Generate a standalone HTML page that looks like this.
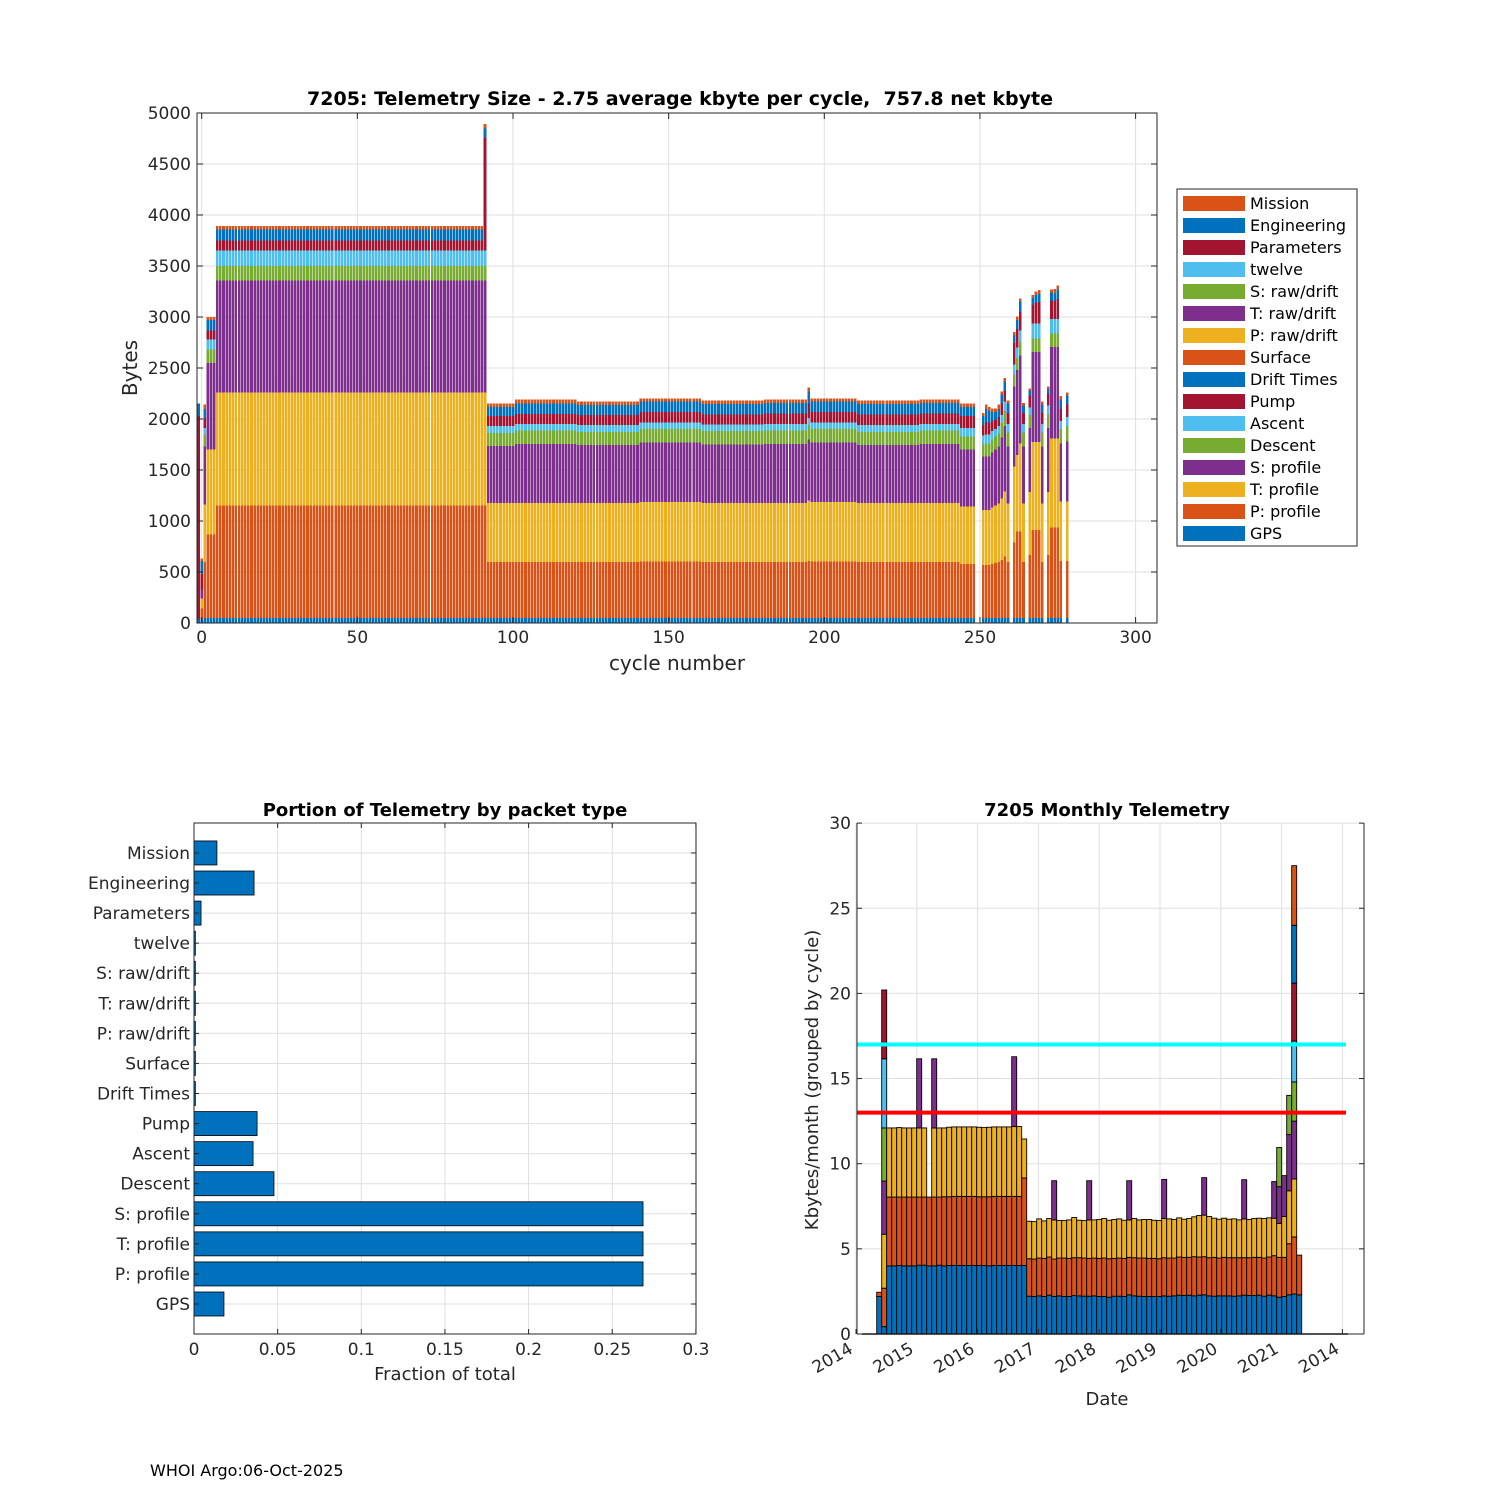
<!DOCTYPE html>
<html><head><meta charset="utf-8"><title>7205 Telemetry</title>
<style>
html,body{margin:0;padding:0;background:#fff;}
svg{display:block;font-family:"DejaVu Sans","Liberation Sans",sans-serif;}
.tk{font-size:17px;fill:#262626;}
.ttl{font-size:19px;font-weight:bold;fill:#000;white-space:pre;}
.lbl{font-size:20px;fill:#262626;}
.lg{font-size:16px;fill:#000;}
</style></head>
<body>
<svg id="fig" width="1500" height="1500" viewBox="0 0 1500 1500" xmlns="http://www.w3.org/2000/svg">
<rect x="0" y="0" width="1500" height="1500" fill="#fff"/>
<g id="top"></g>
<g id="bl"></g>
<g id="br"></g>
<text x="150" y="1476" font-size="16" fill="#000">WHOI Argo:06-Oct-2025</text>
</svg>
<script>
// ---------- TOP CHART DATA ----------
const topLayerNames = ['GPS','P: profile','T: profile','S: profile','Descent','Ascent','Pump','Drift Times','Surface','P: raw/drift','T: raw/drift','S: raw/drift','twelve','Parameters','Engineering','Mission'];
const topColors = ['#0072BD','#D95319','#EDB120','#7E2F8E','#77AC30','#4DBEEE','#A2142F','#0072BD','#D95319','#EDB120','#7E2F8E','#77AC30','#4DBEEE','#A2142F','#0072BD','#D95319'];
const rowLayerIndex = [0,1,2,3,4,5,6,13,14,15];
// [firstCycle, lastCycle, gps, P, T, S, descent, ascent, pump, params, engineering, mission]
const cycleSegments = [
 [-1,-1, 40,0,0,0,0,0,1990,0,120,0],
 [0,0, 40,100,100,90,0,0,150,0,130,20],
 [1,1, 50,550,560,570,120,60,100,0,90,40],
 [2,4, 50,820,830,850,130,100,90,0,100,30],
 [5,90, 50,1100,1110,1100,140,150,100,0,110,30],
 [91,91, 50,1100,1110,1100,140,150,1110,0,90,40],
 [92,100, 50,550,575,560,130,65,100,0,90,30],
 [101,120, 50,550,575,580,130,65,100,0,100,40],
 [121,140, 50,550,575,570,130,65,100,0,95,35],
 [141,160, 50,555,580,585,130,65,105,0,100,30],
 [161,180, 50,550,575,575,130,65,100,0,100,35],
 [181,194, 50,550,575,580,130,65,105,0,100,35],
 [195,195, 50,560,590,600,140,70,140,0,120,40],
 [196,210, 50,555,580,585,130,65,105,0,100,30],
 [211,230, 50,550,575,570,130,65,105,0,100,35],
 [231,243, 50,550,575,580,130,65,105,0,100,35],
 [244,248, 50,530,560,560,130,80,120,0,90,30],
 [251,251, 50,520,540,520,120,90,100,0,90,30],
 [252,252, 50,520,540,520,130,90,120,0,130,40],
 [253,253, 50,520,540,520,130,90,110,0,120,40],
 [254,254, 50,530,550,540,130,80,100,0,90,35],
 [255,255, 50,540,560,550,130,70,90,0,80,35],
 [256,256, 50,550,570,560,130,70,90,0,80,40],
 [257,257, 50,570,600,600,140,80,110,0,90,30],
 [258,258, 50,600,640,640,150,90,110,0,90,30],
 [259,259, 50,550,570,560,140,80,110,0,90,30],
 [261,261, 50,740,745,785,115,100,210,0,80,30],
 [262,262, 50,845,750,835,120,100,180,0,90,34],
 [263,263, 50,845,865,865,125,120,180,0,100,33],
 [264,264, 50,550,570,560,140,80,110,0,70,25],
 [266,266, 50,617,617,627,130,70,120,0,50,20],
 [267,267, 50,860,866,882,131,147,180,0,70,30],
 [268,268, 50,860,866,882,131,147,200,0,80,33],
 [269,269, 50,860,866,882,131,147,210,0,85,34],
 [270,270, 50,550,570,560,140,80,110,0,80,30],
 [272,272, 50,617,617,627,140,80,120,0,46,20],
 [273,273, 50,885,872,899,130,142,180,0,80,33],
 [274,274, 50,885,872,899,130,142,180,0,70,47],
 [275,275, 50,885,872,899,130,142,200,0,90,39],
 [276,276, 50,560,580,570,140,80,120,0,90,35],
 [278,278, 50,560,580,590,150,90,120,0,90,28]
];
const topXTicks = [0,50,100,150,200,250,300];
const topYTicks = [0,500,1000,1500,2000,2500,3000,3500,4000,4500,5000];

// ---------- BOTTOM LEFT DATA ----------
const packetNames = ['GPS','P: profile','T: profile','S: profile','Descent','Ascent','Pump','Drift Times','Surface','P: raw/drift','T: raw/drift','S: raw/drift','twelve','Parameters','Engineering','Mission'];
const packetFractions = [0.0179,0.2684,0.2684,0.2684,0.0478,0.0353,0.0377,0.0008,0.0008,0.0008,0.0008,0.0008,0.0008,0.0042,0.0359,0.0137];
const fracTicks = [0,0.05,0.1,0.15,0.2,0.25,0.3];
const fracTickLabels = ['0','0.05','0.1','0.15','0.2','0.25','0.3'];

// ---------- BOTTOM RIGHT DATA ----------
const monthBlue = [2.2,0.43,4.0,4.0,4.02,4.0,4.0,4.0,4.04,4.04,4.0,4.0,4.04,4.0,4.02,4.02,4.02,4.02,4.02,4.02,4.02,4.02,4.0,4.02,4.02,4.02,4.02,4.02,4.02,4.02,
 2.22,2.2,2.24,2.2,2.28,2.2,2.24,2.2,2.2,2.26,2.24,2.22,2.22,2.24,2.2,2.2,2.16,2.22,2.22,2.2,2.3,2.24,2.22,2.2,2.2,2.2,2.2,2.24,2.22,2.24,
 2.28,2.26,2.28,2.24,2.28,2.3,2.24,2.22,2.24,2.24,2.24,2.22,2.24,2.28,2.26,2.26,2.28,2.22,2.28,2.24,2.16,2.2,2.3,2.35,2.3];
const monthOrange = [0.25,2.26,4.04,4.04,4.02,4.04,4.04,4.04,4.0,4.0,4.04,4.04,4.0,4.06,4.04,4.06,4.06,4.06,4.06,4.06,4.04,4.04,4.06,4.06,4.06,4.06,4.06,4.06,4.06,5.14,
 2.2,2.2,2.22,2.24,2.24,2.2,2.22,2.26,2.24,2.22,2.24,2.24,2.22,2.22,2.24,2.26,2.26,2.22,2.24,2.24,2.2,2.24,2.24,2.26,2.24,2.24,2.22,2.24,2.24,2.22,
 2.24,2.24,2.22,2.3,2.24,2.24,2.24,2.28,2.22,2.26,2.24,2.26,2.24,2.2,2.22,2.24,2.22,2.24,2.24,2.36,2.34,2.3,3.0,3.35,2.33];
const monthYellow = [0,3.17,4.06,4.06,4.08,4.06,4.06,4.06,4.06,4.06,0,4.06,4.06,4.04,4.08,4.08,4.08,4.08,4.08,4.08,4.08,4.06,4.08,4.08,4.08,4.08,4.08,4.1,4.1,2.29,
 2.2,2.2,2.3,2.2,2.26,2.3,2.2,2.2,2.26,2.36,2.2,2.2,2.26,2.24,2.28,2.32,2.26,2.28,2.3,2.24,2.2,2.3,2.24,2.26,2.28,2.24,2.24,2.3,2.3,2.26,
 2.3,2.24,2.28,2.34,2.44,2.44,2.42,2.3,2.28,2.3,2.26,2.28,2.22,2.28,2.24,2.28,2.3,2.32,2.3,2.2,2.0,2.4,3.11,3.4,0];
const monthPurple = [0,3.12,0,0,0,0,0,0,4.06,0,0,4.06,0,0,0,0,0,0,0,0,0,0,0,0,0,0,0,4.1,0,0,
 0,0,0,0,0,2.3,0,0,0,0,0,0,2.3,0,0,0,0,0,0,0,2.3,0,0,0,0,0,0,2.3,0,0,
 0,0,0,0,0,2.2,0,0,0,0,0,0,0,2.3,0,0,0,0,0,2.15,2.15,2.4,3.3,3.4,0];
const monthGreen = [0,3.12,0,0,0,0,0,0,0,0,0,0,0,0,0,0,0,0,0,0,0,0,0,0,0,0,0,0,0,0,
 0,0,0,0,0,0,0,0,0,0,0,0,0,0,0,0,0,0,0,0,0,0,0,0,0,0,0,0,0,0,
 0,0,0,0,0,0,0,0,0,0,0,0,0,0,0,0,0,0,0,0,2.3,0,2.3,2.3,0];
const monthLightBlue = new Array(85).fill(0);
monthLightBlue[1] = 4.06; monthLightBlue[83] = 2.4;
const monthRed = new Array(85).fill(0);
monthRed[1] = 4.04; monthRed[83] = 3.4;
const monthBlue2 = new Array(85).fill(0);
monthBlue2[83] = 3.4;
const monthOrange2 = new Array(85).fill(0);
monthOrange2[83] = 3.5;
const monthLimitHigh = 17;
const monthLimitLow = 13;
const monthYTicks = [0,5,10,15,20,25,30];
const dateTickLabels = ['2014','2015','2016','2017','2018','2019','2020','2021','2014'];

const NS = 'http://www.w3.org/2000/svg';
function mk(parent, tag, attrs, txt){
  const e = document.createElementNS(NS, tag);
  for (const k in attrs) e.setAttribute(k, attrs[k]);
  if (txt !== undefined) e.textContent = txt;
  parent.appendChild(e);
  return e;
}

// ================= TOP CHART =================
(function(){
  const g = document.getElementById('top');
  const L=197, R=1157, T=113, B=623;
  const X = c => 201.7 + c*3.113;
  const Y = v => B - v*0.102;
  topXTicks.forEach(t=>{
    const l = mk(g,'line',{x1:X(t),x2:X(t),y1:T,y2:B,stroke:'#dfdfdf','stroke-width':1});
    
    
  });
  topYTicks.forEach(t=>{
    const l = mk(g,'line',{x1:L,x2:R,y1:Y(t),y2:Y(t),stroke:'#dfdfdf','stroke-width':1});
    
    
  });
  const bars = mk(g,'g',{'shape-rendering':'crispEdges'});
  
  
  cycleSegments.forEach(seg=>{
    for (let c=seg[0]; c<=seg[1]; c++){
      let base = 0;
      for (let f=0; f<10; f++){
        const v = seg[2+f];
        if (v<=0) continue;
        const r = mk(bars,'rect',{x:X(c)-1.3,width:2.6,y:Y(base+v),height:Y(base)-Y(base+v),fill:topColors[rowLayerIndex[f]]});
        
        
        base += v;
      }
    }
  });
  const box = mk(g,'rect',{x:L,y:T,width:R-L,height:B-T,fill:'none',stroke:'#262626','stroke-width':1});
  
  
  topXTicks.forEach(t=>{
    mk(g,'line',{x1:X(t),x2:X(t),y1:B,y2:B-6,stroke:'#262626'});
    mk(g,'line',{x1:X(t),x2:X(t),y1:T,y2:T+6,stroke:'#262626'});
    const tx = mk(g,'text',{x:X(t),y:B+20,'text-anchor':'middle',class:'tk'},String(t));
    
    
  });
  topYTicks.forEach(t=>{
    mk(g,'line',{x1:L,x2:L+6,y1:Y(t),y2:Y(t),stroke:'#262626'});
    mk(g,'line',{x1:R,x2:R-6,y1:Y(t),y2:Y(t),stroke:'#262626'});
    const tx = mk(g,'text',{x:L-6,y:Y(t)+6,'text-anchor':'end',class:'tk'},String(t));
    
    
  });
  const ti = mk(g,'text',{x:680,y:105,'text-anchor':'middle',class:'ttl'},'7205: Telemetry Size - 2.75 average kbyte per cycle,  757.8 net kbyte');
  
  
  const xl = mk(g,'text',{x:677,y:670,'text-anchor':'middle',class:'lbl'},'cycle number');
  
  
  const yl = mk(g,'text',{x:0,y:0,'text-anchor':'middle',class:'lbl',transform:'translate(137,368) rotate(-90)'},'Bytes');
  
  
  const lg = mk(g,'g',{});
  
  
  mk(lg,'rect',{x:1177,y:189,width:180,height:357,fill:'#fff',stroke:'#262626','stroke-width':1});
  for (let k=0;k<16;k++){
    const li = 15-k;
    const yy = 203 + k*22;
    const e = mk(lg,'g',{});
    
    
    mk(e,'rect',{x:1183,y:yy-7,width:62,height:15,fill:topColors[li]});
    mk(e,'text',{x:1250,y:yy+6,class:'lg'},topLayerNames[li]);
  }
})();

// ================= BOTTOM LEFT =================
(function(){
  const g = document.getElementById('bl');
  const L=194, R=696, T=823, B=1334;
  const X = v => L + v*1673;
  const Y = i => 1304 - i*30.07;
  fracTicks.forEach(t=>{
    const l = mk(g,'line',{x1:X(t),x2:X(t),y1:T,y2:B,stroke:'#dfdfdf'});
    
    
  });
  packetNames.forEach((n,i)=>{
    const l = mk(g,'line',{x1:L,x2:R,y1:Y(i),y2:Y(i),stroke:'#dfdfdf'});
    
    
  });
  packetFractions.forEach((v,i)=>{
    const r = mk(g,'rect',{x:L,y:Y(i)-12,width:Math.max(X(v)-L,0.8),height:24,fill:'#0072BD',stroke:'#000','stroke-width':0.8});
    
    
  });
  const box = mk(g,'rect',{x:L,y:T,width:R-L,height:B-T,fill:'none',stroke:'#262626'});
  
  
  fracTicks.forEach((t,k)=>{
    mk(g,'line',{x1:X(t),x2:X(t),y1:B,y2:B-5,stroke:'#262626'});
    mk(g,'line',{x1:X(t),x2:X(t),y1:T,y2:T+5,stroke:'#262626'});
    const tx = mk(g,'text',{x:X(t),y:B+21,'text-anchor':'middle',class:'tk'},fracTickLabels[k]);
    
    
  });
  packetNames.forEach((n,i)=>{
    mk(g,'line',{x1:L,x2:L+5,y1:Y(i),y2:Y(i),stroke:'#262626'});
    mk(g,'line',{x1:R,x2:R-5,y1:Y(i),y2:Y(i),stroke:'#262626'});
    const tx = mk(g,'text',{x:L-4,y:Y(i)+6,'text-anchor':'end',class:'tk'},n);
    
    
  });
  const ti = mk(g,'text',{x:445,y:816,'text-anchor':'middle',class:'ttl',style:'font-size:18px'},'Portion of Telemetry by packet type');
  
  
  const xl = mk(g,'text',{x:445,y:1380,'text-anchor':'middle',class:'tk',style:'font-size:18px'},'Fraction of total');
  
  
})();

// ================= BOTTOM RIGHT =================
(function(){
  const g = document.getElementById('br');
  const L=857, R=1364, T=823, B=1334;
  const X = i => 876.7 + i*5.0;
  const Y = v => B - v*17.03;
  const tickX = k => 856 + k*60.8;
  dateTickLabels.forEach((s,k)=>{
    const l = mk(g,'line',{x1:tickX(k),x2:tickX(k),y1:T,y2:B,stroke:'#dfdfdf'});
    
    
  });
  monthYTicks.forEach(t=>{
    const l = mk(g,'line',{x1:L,x2:R,y1:Y(t),y2:Y(t),stroke:'#dfdfdf'});
    
    
  });
  const layers = [monthBlue,monthOrange,monthYellow,monthPurple,monthGreen,monthLightBlue,monthRed,monthBlue2,monthOrange2];
  const cols = ['#0072BD','#D95319','#EDB120','#7E2F8E','#77AC30','#4DBEEE','#A2142F','#0072BD','#D95319'];
  const bars = mk(g,'g',{});
  
  
  for (let i=0;i<monthBlue.length;i++){
    let base=0;
    layers.forEach((arr,li)=>{
      const v = arr[i];
      if (!v) return;
      const r = mk(bars,'rect',{x:X(i),y:Y(base+v),width:5.0,height:Y(base)-Y(base+v),fill:cols[li],stroke:'#000','stroke-width':0.9});
      
      
      base+=v;
    });
  }
  const base = mk(g,'line',{x1:862,x2:1348,y1:B,y2:B,stroke:'#000','stroke-width':1.5});
  
  
  const hi = mk(g,'line',{x1:L,x2:1346,y1:Y(monthLimitHigh),y2:Y(monthLimitHigh),stroke:'#00FFFF','stroke-width':4});
  
  
  const lo = mk(g,'line',{x1:L,x2:1346,y1:Y(monthLimitLow),y2:Y(monthLimitLow),stroke:'#FF0000','stroke-width':4});
  
  
  mk(g,'line',{x1:L,x2:L,y1:T,y2:B,stroke:'#262626'});
  mk(g,'line',{x1:R,x2:R,y1:T,y2:B,stroke:'#262626'});
  mk(g,'line',{x1:L,x2:R,y1:B,y2:B,stroke:'#262626'});
  monthYTicks.forEach(t=>{
    mk(g,'line',{x1:L,x2:L+5,y1:Y(t),y2:Y(t),stroke:'#262626'});
    mk(g,'line',{x1:R,x2:R-5,y1:Y(t),y2:Y(t),stroke:'#262626'});
    const tx = mk(g,'text',{x:L-6,y:Y(t)+6,'text-anchor':'end',class:'tk'},String(t));
    
    
  });
  dateTickLabels.forEach((s,k)=>{
    mk(g,'line',{x1:tickX(k),x2:tickX(k),y1:B,y2:B-5,stroke:'#262626'});
    const tx = mk(g,'text',{x:0,y:0,'text-anchor':'end',class:'tk',transform:'translate('+(tickX(k)-2)+','+(B+18)+') rotate(-30)'},s);
    
    
  });
  const ti = mk(g,'text',{x:1107,y:816,'text-anchor':'middle',class:'ttl',style:'font-size:18px'},'7205 Monthly Telemetry');
  
  
  const xl = mk(g,'text',{x:1107,y:1405,'text-anchor':'middle',class:'tk',style:'font-size:18px'},'Date');
  
  
  const yl = mk(g,'text',{x:0,y:0,'text-anchor':'middle',class:'tk',style:'font-size:18px',transform:'translate(818,1080) rotate(-90)'},'Kbytes/month (grouped by cycle)');
  
  
})();
</script>
</body></html>
